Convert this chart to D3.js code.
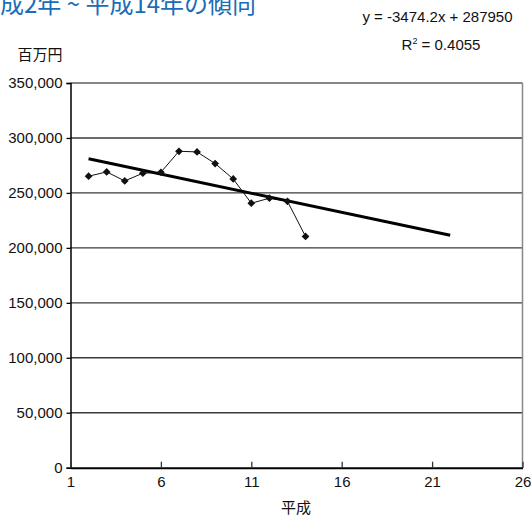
<!DOCTYPE html>
<html><head><meta charset="utf-8">
<script src="https://cdn.jsdelivr.net/npm/d3@7"></script>
<style>html,body{margin:0;padding:0;background:#fff;overflow:hidden}</style>
</head><body>
<svg id="c" width="531" height="517"></svg>
<script>
const titleText = "平成2年 ~ 平成14年の傾向";
const years = [2,3,4,5,6,7,8,9,10,11,12,13,14];
const values = [265200,269100,260900,267900,268800,287900,287300,276700,262700,240600,245200,242400,210400];
const trendSlope = -3474.2, trendIntercept = 287950;
const trendRange = [2, 22];
const xTicks = [1,6,11,16,21,26];
const yTicks = [0,50000,100000,150000,200000,250000,300000,350000];
const eqLine1 = "y = -3474.2x + 287950";
const yUnit = "百万円", xTitle = "平成";

const svg = d3.select("#c");
const L = 70.5, R = 522.5, T = 83, B = 467.7;
const x = d3.scaleLinear().domain([1,26]).range([L,R]);
const y = d3.scaleLinear().domain([0,350000]).range([B,T]);
const font = "'Liberation Sans', Arial, sans-serif";
const cjk = "'Noto Sans CJK JP', sans-serif";

// gridlines
svg.append("g").selectAll("line").data(yTicks.filter(d=>d>0&&d<350000)).join("line")
  .attr("x1",L).attr("x2",R).attr("y1",d=>y(d)).attr("y2",d=>y(d))
  .attr("stroke","#3a3a3a").attr("stroke-width",1.4);
// border top/right
svg.append("line").attr("x1",L).attr("x2",R).attr("y1",y(350000)).attr("y2",y(350000)).attr("stroke","#111").attr("stroke-width",1.2);
svg.append("line").attr("x1",R).attr("x2",R).attr("y1",T).attr("y2",B).attr("stroke","#888").attr("stroke-width",1.5);

// y axis
const ya = svg.append("g").attr("transform",`translate(${L},0)`)
  .call(d3.axisLeft(y).tickValues(yTicks).tickSize(4).tickPadding(4).tickFormat(d3.format(",")));
ya.select(".domain").attr("stroke","#000").attr("stroke-width",1.5);
ya.selectAll(".tick line").attr("stroke","#000").attr("stroke-width",1.3);
ya.selectAll("text").attr("font-family",font).attr("font-size",15).attr("fill","#111");

// x axis
const xa = svg.append("g").attr("transform",`translate(0,${B})`)
  .call(d3.axisBottom(x).tickValues(xTicks).tickSizeInner(-6).tickSizeOuter(0).tickPadding(9));
xa.select(".domain").attr("stroke","#000").attr("stroke-width",2);
xa.selectAll(".tick line").attr("stroke","#333").attr("stroke-width",1.3);
xa.selectAll("text").attr("font-family",font).attr("font-size",15).attr("fill","#111").attr("dy","0.72em").attr("y",9);

// series line
svg.append("path").datum(years.map((yr,i)=>[yr,values[i]]))
  .attr("d",d3.line().x(d=>x(d[0])).y(d=>y(d[1])))
  .attr("fill","none").attr("stroke","#111").attr("stroke-width",1);
// trend line
svg.append("path").datum(trendRange.map(t=>[t, trendSlope*t+trendIntercept]))
  .attr("d",d3.line().x(d=>x(d[0])).y(d=>y(d[1])))
  .attr("fill","none").attr("stroke","#000").attr("stroke-width",3);
// markers
svg.append("g").selectAll("path").data(years.map((yr,i)=>[yr,values[i]])).join("path")
  .attr("d",d3.symbol(d3.symbolSquare,30))
  .attr("transform",d=>`translate(${x(d[0])},${y(d[1])}) rotate(45)`)
  .attr("fill","#111");

// texts
svg.append("text").attr("x",437.5).attr("y",22).attr("text-anchor","middle")
  .attr("font-family",font).attr("font-size",15).attr("fill","#111").text(eqLine1);
const r2 = svg.append("text").attr("x",441).attr("y",50).attr("text-anchor","middle")
  .attr("font-family",font).attr("font-size",15).attr("fill","#111");
r2.append("tspan").text("R");
r2.append("tspan").attr("dy",-6).attr("font-size",9).text("2");
r2.append("tspan").attr("dy",6).text(" = 0.4055");

svg.append("text").attr("x",40).attr("y",60).attr("text-anchor","middle")
  .attr("font-family",cjk).attr("font-size",15).attr("fill","#111").text(yUnit);
svg.append("text").attr("x",296).attr("y",513).attr("text-anchor","middle")
  .attr("font-family",cjk).attr("font-size",15).attr("fill","#111").text(xTitle);

const tt = svg.append("text").attr("y",13).attr("font-family",cjk).attr("font-size",24)
  .attr("fill","#1b6db5").text(titleText);
const w0 = tt.node().getSubStringLength(0,1);
tt.attr("x",-w0);
</script>
</body></html>
